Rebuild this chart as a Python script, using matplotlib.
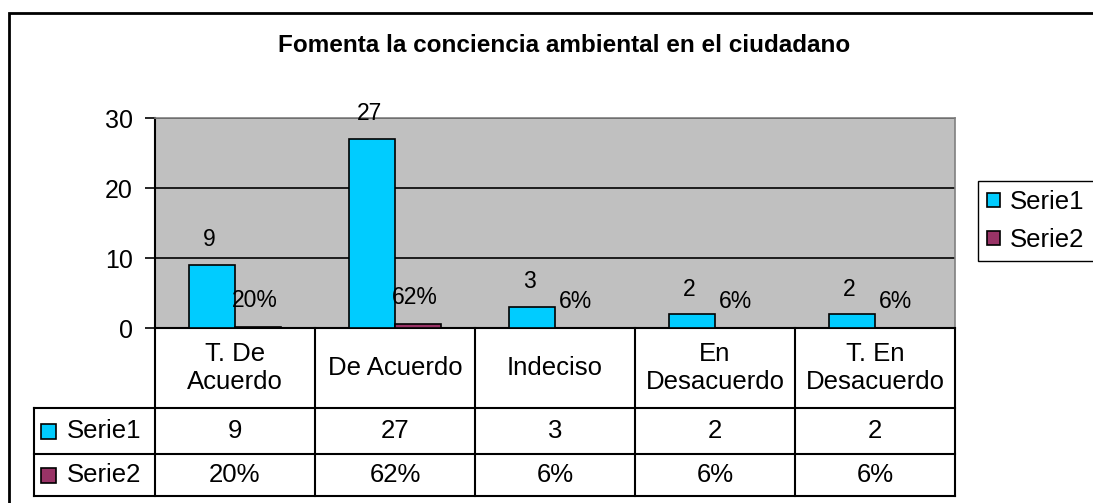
import numpy as np
import matplotlib
matplotlib.use('Agg')
import matplotlib.pyplot as plt
from matplotlib.patches import Rectangle, Patch

plt.rcParams['font.family'] = ['Liberation Sans', 'DejaVu Sans']

# data
categorias = ['T. De\nAcuerdo', 'De Acuerdo', 'Indeciso', 'En\nDesacuerdo', 'T. En\nDesacuerdo']
series = ['Serie1', 'Serie2']
serie1 = [9, 27, 3, 2, 2]
serie2 = [0.20, 0.62, 0.06, 0.06, 0.06]
serie1_txt = ['9', '27', '3', '2', '2']
serie2_txt = ['20%', '62%', '6%', '6%', '6%']
titulo = 'Fomenta la conciencia ambiental en el ciudadano'

c1 = '#00CCFF'
c2 = '#993366'

W, H = 1093, 503
fig = plt.figure(figsize=(W / 100, H / 100), dpi=100)
fig.patch.set_facecolor('white')

def fx(p):
    return p / W

def fy(p):
    return 1 - p / H

# plot area (pixel box 155..955, 118..328)
ax = fig.add_axes([fx(155), fy(328), 800 / W, 210 / H])
ax.set_facecolor('#C0C0C0')

x = np.arange(len(categorias))
w = 46 / 160
b1 = ax.bar(x - w / 2, serie1, w, color=c1, edgecolor='black', lw=1.2, zorder=3)
b2 = ax.bar(x + w / 2, serie2, w, color=c2, edgecolor='black', lw=1.2, zorder=3)

for xi, v, t in zip(x, serie1, serie1_txt):
    ax.annotate(t, (xi - w / 2, v), xytext=(-2, 18), textcoords='offset points',
                ha='center', va='center', fontsize=16.5)
for xi, v, t in zip(x, serie2, serie2_txt):
    ax.annotate(t, (xi + w / 2, v), xytext=(-2, 19), textcoords='offset points',
                ha='center', va='center', fontsize=16.5)

ax.set_xlim(-0.5, len(categorias) - 0.5)
ax.set_ylim(0, 30)
ax.set_yticks([0, 10, 20, 30])
ax.tick_params(axis='y', direction='out', length=7, width=1.2, pad=9, labelsize=18)
ax.set_xticks([])
ax.yaxis.grid(True, color='black', lw=1.2)
ax.set_axisbelow(True)
for s in ['left', 'bottom']:
    ax.spines[s].set_color('black')
    ax.spines[s].set_linewidth(1.5)
for s in ['top', 'right']:
    ax.spines[s].set_color('#808080')
    ax.spines[s].set_linewidth(1.2)

# data table under the axis
trans = ax.get_xaxis_transform()
y_head = -80 / 210
y_r1 = -126 / 210
y_r2 = -168 / 210
x_lab = -0.5 - 121 / 160
x_right = len(categorias) - 0.5
kw = dict(transform=trans, clip_on=False, color='black', lw=1.5)

for i in range(len(categorias) + 1):
    ax.plot([i - 0.5, i - 0.5], [0, y_r2], **kw)
ax.plot([x_lab, x_lab], [y_head, y_r2], **kw)
for yy in [y_head, y_r1, y_r2]:
    ax.plot([x_lab, x_right], [yy, yy], **kw)

fs_tab = 18.5
for i, c in enumerate(categorias):
    ax.text(i, y_head / 2, c, transform=trans, ha='center', va='center',
            fontsize=fs_tab, linespacing=1.25)
    ax.text(i, (y_head + y_r1) / 2, serie1_txt[i], transform=trans,
            ha='center', va='center', fontsize=fs_tab)
    ax.text(i, (y_r1 + y_r2) / 2, serie2_txt[i], transform=trans,
            ha='center', va='center', fontsize=fs_tab)

# row labels with colour keys
for yy, name, col in [((y_head + y_r1) / 2, series[0], c1), ((y_r1 + y_r2) / 2, series[1], c2)]:
    ax.text(x_lab + 33 / 160, yy, name, transform=trans, ha='left', va='center', fontsize=fs_tab)
    ycen = 328 - yy * 210
    fig.add_artist(Rectangle((fx(41), fy(ycen + 7.5)), 15 / W, 15 / H,
                             transform=fig.transFigure, fc=col, ec='black', lw=1.2))

fig.text(fx(564), fy(45), titulo, ha='center', va='center', fontsize=17.5,
         fontweight='bold')

fig.legend(handles=[Patch(fc=c1, ec='black', lw=1.2), Patch(fc=c2, ec='black', lw=1.2)],
           labels=series, loc='upper left', bbox_to_anchor=(fx(978), fy(181)),
           fontsize=18.5, frameon=True, fancybox=False, edgecolor='black',
           framealpha=1, borderpad=0.35, labelspacing=0.55, handlelength=0.5,
           handleheight=0.5, handletextpad=0.4, borderaxespad=0)

# outer chart frame
fig.add_artist(Rectangle((fx(9), fy(520)), 1200 / W, 507 / H, transform=fig.transFigure,
                         fill=False, ec='black', lw=2))

fig.savefig('out.png', dpi=100)
